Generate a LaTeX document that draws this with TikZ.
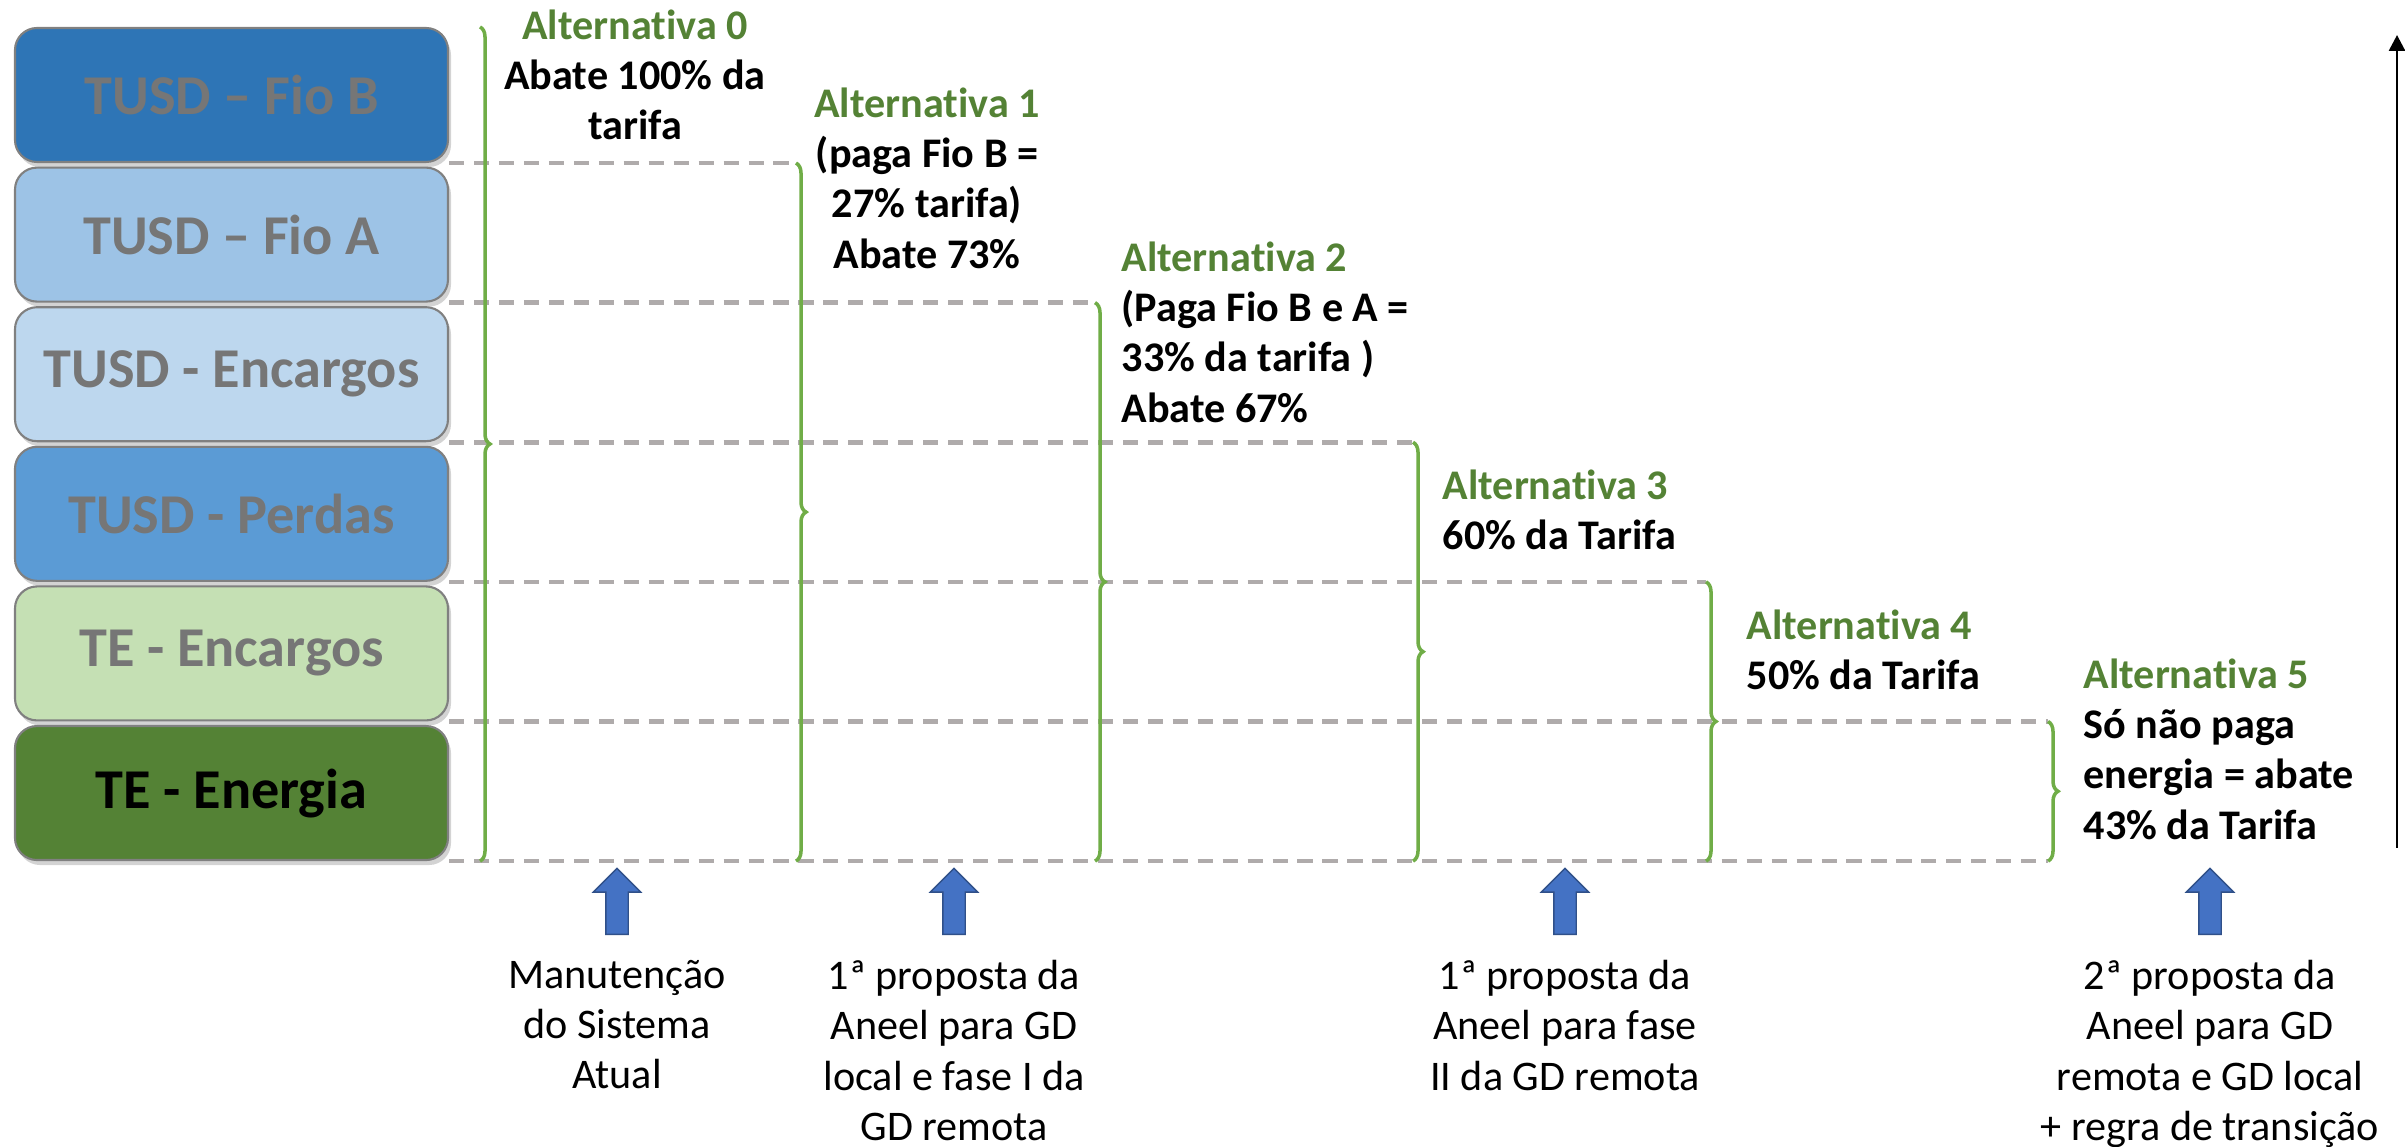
\documentclass[tikz,border=0pt]{standalone}
\usepackage{fontspec}
\setmainfont{Carlito}[Ligatures=TeX, RawFeature={-liga;-calt;-dlig}]
\usepackage{xcolor}
\usepackage{tikz}
\usetikzlibrary{positioning, shapes.arrows, decorations.pathreplacing, shadows, arrows.meta, calc}

\definecolor{fioBblue}{HTML}{2E75B6}
\definecolor{fioAblue}{HTML}{9DC3E6}
\definecolor{encTusdBlue}{HTML}{BDD7EE}
\definecolor{perdasBlue}{HTML}{5B9BD5}
\definecolor{encTeGreen}{HTML}{C5E0B4}
\definecolor{energiaGreen}{HTML}{548235}
\definecolor{altGreen}{HTML}{548235}
\definecolor{braceGreen}{HTML}{70AD47}
\definecolor{dashGray}{HTML}{AFABAB}
\definecolor{labelGray}{HTML}{767676}
\definecolor{arrowBlue}{HTML}{4472C4}

\begin{document}
\begin{tikzpicture}[
		tarifa/.style={draw=gray, line width=0.6pt, rounded corners=0.22cm, minimum width=4.33cm, minimum height=1.34cm, text=labelGray, font=\fontsize{16}{19}\selectfont\bfseries, drop shadow={opacity=0.35, shadow xshift=0.03cm, shadow yshift=-0.05cm}}, % Tariff blocks
		divisa/.style={dashGray, line width=1.3pt, dash pattern=on 4.3pt off 2.8pt}, % Dashed level lines
		chave/.style={braceGreen, line width=1pt, decorate, decoration={brace, amplitude=0.1cm}}, % Green brackets
		alt/.style={font=\fontsize{12}{14.3}\selectfont\bfseries, inner sep=0pt}, % Alternative texts
		proposta/.style={font=\fontsize{12}{14.3}\selectfont, align=center, inner sep=0pt, anchor=north}, % Proposal texts
		seta/.style={single arrow, fill=arrowBlue, draw=arrowBlue!70!black, line width=0.4pt, rotate=90, minimum height=0.66cm, inner sep=0.105cm, single arrow head extend=0.125cm}, % Blue arrows
		node distance=0.035cm % Gap between blocks
		]
		\useasboundingbox (0,0) rectangle (24.05,-11.47);
		% Tariff components
		\node[tarifa, fill=fioBblue] (fioB) at (2.315,-0.95) {TUSD -- Fio B};
		\node[tarifa, fill=fioAblue, below=of fioB] (fioA) {TUSD -- Fio A};
		\node[tarifa, fill=encTusdBlue, below=of fioA] (encTusd) {TUSD - Encargos};
		\node[tarifa, fill=perdasBlue, below=of encTusd] (perdas) {TUSD - Perdas};
		\node[tarifa, fill=encTeGreen, below=of perdas] (encTe) {TE - Encargos};
		\node[tarifa, fill=energiaGreen, text=black, below=of encTe] (energia) {TE - Energia};
		% Bracket columns
		\foreach \n/\x in {k0/4.80, k1/7.96, k2/10.95, k3/14.13, k4/17.06, k5/20.48}
			\coordinate (\n) at (\x,0);
		% Dashed levels
		\draw[divisa] (fioB.south east) -- (k1 |- fioB.south);
		\draw[divisa] (fioA.south east) -- (k2 |- fioA.south);
		\draw[divisa] (encTusd.south east) -- (k3 |- encTusd.south);
		\draw[divisa] (perdas.south east) -- (k4 |- perdas.south);
		\draw[divisa] (encTe.south east) -- (k5 |- encTe.south);
		\draw[divisa] (energia.south east) -- (k5 |- energia.south);
		% Brackets
		\draw[chave] (k0 |- fioB.north) -- (k0 |- energia.south);
		\draw[chave] (k1 |- fioB.south) -- (k1 |- energia.south);
		\draw[chave] (k2 |- fioA.south) -- (k2 |- energia.south);
		\draw[chave] (k3 |- encTusd.south) -- (k3 |- energia.south);
		\draw[chave] (k4 |- perdas.south) -- (k4 |- energia.south);
		\draw[chave] (k5 |- encTe.south) -- (k5 |- energia.south);
		% Alternatives
		\node[alt, align=center, anchor=north] (alt0) at (6.35,-0.09) {\textcolor{altGreen}{Alternativa 0}\\Abate 100\% da\\tarifa};
		\node[alt, align=center, anchor=north] (alt1) at (9.27,-0.87) {\textcolor{altGreen}{Alternativa 1}\\(paga Fio B =\\27\% tarifa)\\Abate 73\%};
		\node[alt, align=left, anchor=north west] (alt2) at (11.21,-2.41) {\textcolor{altGreen}{Alternativa 2}\\(Paga Fio B e A =\\33\% da tarifa )\\Abate 67\%};
		\node[alt, align=left, anchor=north west] (alt3) at (14.42,-4.69) {\textcolor{altGreen}{Alternativa 3}\\60\% da Tarifa};
		\node[alt, align=left, anchor=north west] (alt4) at (17.46,-6.09) {\textcolor{altGreen}{Alternativa 4}\\50\% da Tarifa};
		\node[alt, align=left, anchor=north west] (alt5) at (20.83,-6.58) {\textcolor{altGreen}{Alternativa 5}\\Só não paga\\energia = abate\\43\% da Tarifa};
		% Proposal arrows
		\node[seta] (s0) at (6.17,-9.07) {};
		\node[seta] (s1) at (9.54,-9.07) {};
		\node[seta] (s3) at (15.65,-9.07) {};
		\node[seta] (s5) at (22.10,-9.07) {};
		% Proposal texts
		\node[proposta] (p0) at (6.17,-9.595) {Manutenção\\do Sistema\\Atual};
		\node[proposta] (p1) at (9.54,-9.595) {1ª proposta da\\Aneel para GD\\local e fase I da\\GD remota};
		\node[proposta] (p3) at (15.65,-9.595) {1ª proposta da\\Aneel para fase\\II da GD remota};
		\node[proposta] (p5) at (22.10,-9.595) {2ª proposta da\\Aneel para GD\\remota e GD local\\+ regra de transição};
		% Vertical axis
		\coordinate (eixoBase) at (23.97,-8.48);
		\coordinate (eixoTopo) at (23.97,-0.35);
		\draw[-{Triangle[width=0.16cm,length=0.16cm]}, line width=0.8pt] (eixoBase) -- (eixoTopo);
	\end{tikzpicture}
\end{document}
